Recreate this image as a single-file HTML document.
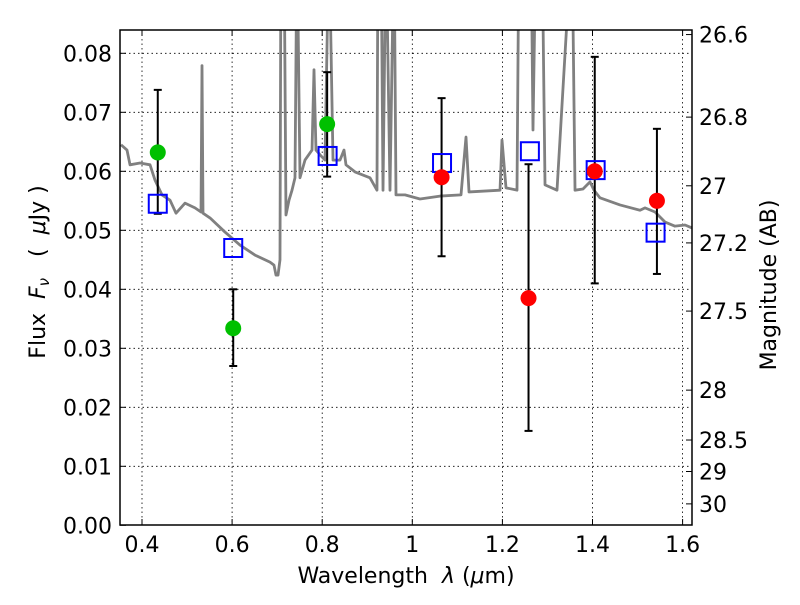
<!DOCTYPE html>
<html><head><meta charset="utf-8"><style>
body{margin:0;background:#fff;}
svg text{font-family:"DejaVu Sans","Liberation Sans",sans-serif;fill:#000;white-space:pre;}
</style></head><body>
<svg id="chart" width="800" height="600" viewBox="0 0 800 600">
<defs><clipPath id="clip"><rect x="120" y="30" width="572" height="495"/></clipPath></defs>
<rect x="0" y="0" width="800" height="600" fill="#fff"/>
<g id="grid"></g>
<g id="spec" clip-path="url(#clip)"></g>
<g id="marks" clip-path="url(#clip)"></g>
<rect x="120" y="30" width="572" height="495" fill="none" stroke="#000" stroke-width="1.5"/>
<g id="axes"></g>
<text x="406" y="583" font-size="22" text-anchor="middle">Wavelength  <tspan font-style="italic">λ</tspan> (<tspan font-style="italic">μ</tspan>m)</text>
<text transform="translate(45,272) rotate(-90)" font-size="22" text-anchor="middle">Flux  <tspan font-style="italic">F<tspan font-size="15" dy="4">ν</tspan></tspan><tspan dy="-4">   (  </tspan><tspan font-style="italic">μ</tspan>Jy )</text>
<text transform="translate(776,285) rotate(-90)" font-size="22" text-anchor="middle">Magnitude (AB)</text>
</svg>
<script>
const xTicks=[0.4,0.6,0.8,1,1.2,1.4,1.6];
const xTickLabels=["0.4","0.6","0.8","1","1.2","1.4","1.6"];
const yTicks=[0,0.01,0.02,0.03,0.04,0.05,0.06,0.07,0.08];
const yTickLabels=["0.00","0.01","0.02","0.03","0.04","0.05","0.06","0.07","0.08"];
const magTicks=[26.6,26.8,27,27.2,27.5,28,28.5,29,30];
const magTickLabels=["26.6","26.8","27","27.2","27.5","28","28.5","29","30"];
const specLam=[0.3534,0.3667,0.3734,0.3956,0.4178,0.4289,0.4444,0.4622,0.4755,0.4954,0.5176,0.5310,0.5332,0.5354,0.5509,0.5842,0.6175,0.6508,0.6841,0.6930,0.6974,0.7019,0.7063,0.7085,0.7152,0.7196,0.7263,0.7330,0.7396,0.7441,0.7507,0.7618,0.7774,0.7818,0.7862,0.7951,0.8062,0.8151,0.8240,0.8395,0.8484,0.8528,0.8728,0.9061,0.9216,0.9239,0.9305,0.9350,0.9416,0.9505,0.9594,0.9638,0.9838,1.0171,1.0615,1.1081,1.1192,1.1259,1.1947,1.1991,1.2080,1.2324,1.2368,1.2635,1.2679,1.2746,1.2879,1.2946,1.3212,1.3545,1.3612,1.3789,1.3945,1.4033,1.4166,1.4610,1.5055,1.5166,1.5388,1.5609,1.5831,1.6053,1.6208];
const specFlux=[0.0645,0.0636,0.0611,0.0614,0.0611,0.0585,0.0560,0.0551,0.0529,0.0546,0.0538,0.0531,0.0779,0.0529,0.0521,0.0497,0.0475,0.0458,0.0446,0.0441,0.0424,0.0424,0.0450,0.1,0.1,0.0526,0.0551,0.0568,0.0589,0.1,0.0589,0.0619,0.0636,0.0772,0.0636,0.0628,0.0619,0.1,0.0619,0.0619,0.0636,0.0611,0.0599,0.0589,0.0568,0.1,0.1,0.0568,0.1,0.0568,0.1,0.0560,0.0560,0.0553,0.0558,0.0560,0.0658,0.0565,0.0568,0.0653,0.0572,0.0568,0.1,0.1,0.0670,0.1,0.1,0.0577,0.0568,0.1,0.0568,0.0570,0.0582,0.0568,0.0555,0.0543,0.0534,0.0538,0.0531,0.0514,0.0507,0.0509,0.0504];
const greenLam=[0.435,0.6025,0.811];
const greenFlux=[0.0632,0.0334,0.0680];
const greenHi=[0.0738,0.0400,0.0768];
const greenLo=[0.0528,0.0270,0.0591];
const redLam=[1.065,1.258,1.405,1.543];
const redFlux=[0.0590,0.0385,0.0600,0.0550];
const redHi=[0.0724,0.0612,0.0794,0.0672];
const redLo=[0.0456,0.0160,0.0410,0.0426];
const modelLam=[0.435,0.6025,0.812,1.066,1.261,1.407,1.540];
const modelFlux=[0.0545,0.0470,0.0626,0.0614,0.0634,0.0602,0.0496];

const X=l=>142+(l-0.4)*450.5;
const Y=f=>525.3-f*5900;
const magToFlux=m=>Math.pow(10,(23.9-m)/2.5);
const NS="http://www.w3.org/2000/svg";
function mk(tag,parent,attrs){const e=document.createElementNS(NS,tag);for(const k in attrs)e.setAttribute(k,attrs[k]);parent.appendChild(e);return e;}
const grid=document.getElementById('grid'),axes=document.getElementById('axes'),spec=document.getElementById('spec'),marks=document.getElementById('marks');

xTicks.forEach((t,i)=>{
  const g=mk('line',grid,{x1:X(t),x2:X(t),y1:30,y2:525,stroke:'#000','stroke-width':0.8,'stroke-dasharray':'1.5,3'});
  
  
  mk('line',axes,{x1:X(t),x2:X(t),y1:525,y2:519,stroke:'#000'});
  mk('line',axes,{x1:X(t),x2:X(t),y1:30,y2:36,stroke:'#000'});
  const tx=mk('text',axes,{x:X(t),y:552,'font-size':22,'text-anchor':'middle'});
  tx.textContent=xTickLabels[i];
  
  
});
yTicks.forEach((t,i)=>{
  if(t>0){const g=mk('line',grid,{x1:120,x2:692,y1:Y(t),y2:Y(t),stroke:'#000','stroke-width':0.8,'stroke-dasharray':'1.5,3'});
  
  }
  mk('line',axes,{x1:120,x2:126,y1:Y(t),y2:Y(t),stroke:'#000'});
  const tx=mk('text',axes,{x:112,y:Y(t)+8,'font-size':22,'text-anchor':'end'});
  tx.textContent=yTickLabels[i];
  
  
});
magTicks.forEach((m,i)=>{
  const y=Y(magToFlux(m));
  mk('line',axes,{x1:692,x2:686,y1:y,y2:y,stroke:'#000'});
  const tx=mk('text',axes,{x:699,y:y+8,'font-size':22,'text-anchor':'start'});
  tx.textContent=magTickLabels[i];
  
  
});

const sp=mk('polyline',spec,{points:specLam.map((l,i)=>X(l)+','+Y(specFlux[i])).join(' '),fill:'none',stroke:'#808080','stroke-width':2.8,'stroke-linejoin':'round'});



function errbar(l,hi,lo){
  const x=X(l);
  mk('line',marks,{x1:x,x2:x,y1:Y(hi),y2:Y(lo),stroke:'#000','stroke-width':2});
  mk('line',marks,{x1:x-4,x2:x+4,y1:Y(hi),y2:Y(hi),stroke:'#000','stroke-width':2});
  mk('line',marks,{x1:x-4,x2:x+4,y1:Y(lo),y2:Y(lo),stroke:'#000','stroke-width':2});
}
greenLam.forEach((l,i)=>errbar(l,greenHi[i],greenLo[i]));
redLam.forEach((l,i)=>errbar(l,redHi[i],redLo[i]));
modelLam.forEach((l,i)=>{
  const r=mk('rect',marks,{x:X(l)-9,y:Y(modelFlux[i])-9,width:18,height:18,fill:'none',stroke:'#0000ff','stroke-width':2});
  
  
});
greenLam.forEach((l,i)=>{
  const c=mk('circle',marks,{cx:X(l),cy:Y(greenFlux[i]),r:8,fill:'#00c000'});
  
  
});
redLam.forEach((l,i)=>{
  const c=mk('circle',marks,{cx:X(l),cy:Y(redFlux[i]),r:8,fill:'#ff0000'});
  
  
});
</script>
</body></html>
